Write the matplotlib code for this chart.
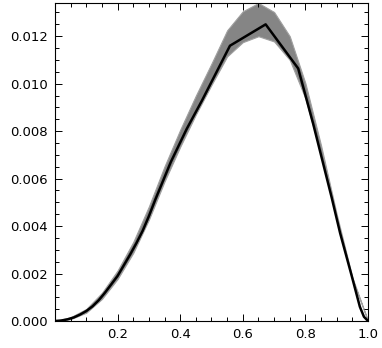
import matplotlib
matplotlib.use("Agg")
import matplotlib.pyplot as plt
from matplotlib.ticker import MultipleLocator, FormatStrFormatter

# model curve (black): smooth rise, then straight segments near the peak
model_x = [0.0, 0.02, 0.04, 0.06, 0.08, 0.10, 0.12, 0.14, 0.16, 0.18, 0.20,
           0.22, 0.24, 0.26, 0.28, 0.30, 0.32, 0.37, 0.421, 0.47, 0.559, 0.673,
           0.777, 0.825, 0.884, 0.911, 0.948, 0.962, 0.974, 0.987, 1.0]
model_y = [0.0, 0.00002, 0.00007, 0.00015, 0.00027, 0.00042, 0.00062, 0.00088,
           0.0012, 0.00155, 0.0019, 0.00235, 0.0028, 0.00328, 0.0038, 0.00442,
           0.0051, 0.0067, 0.0081, 0.0093, 0.0116, 0.0125, 0.01064, 0.0083,
           0.0052, 0.0037, 0.0019, 0.0012, 0.0006, 0.00018, 0.0]

# gray cloud of samples: centre and vertical half-spread
cloud_x = [0.0, 0.05, 0.1, 0.15, 0.2, 0.25, 0.3, 0.35, 0.4, 0.45, 0.5, 0.55,
           0.6, 0.65, 0.7, 0.75, 0.8, 0.85, 0.9, 0.95, 1.0]
cloud_mid = [0.0, 0.00012, 0.00043, 0.00106, 0.00195, 0.0031, 0.00455, 0.0062,
             0.0077, 0.0091, 0.0104, 0.0117, 0.0124, 0.0127, 0.0124, 0.0115,
             0.0097, 0.0072, 0.0044, 0.0018, 0.0]
cloud_half = [0.0, 0.00004, 0.00008, 0.00013, 0.00018, 0.00023, 0.00028,
              0.00032, 0.00036, 0.0004, 0.00045, 0.00055, 0.00065, 0.0007,
              0.00062, 0.0005, 0.00032, 0.0002, 0.0001, 0.00004, 0.0]

cloud_lo = [m - h for m, h in zip(cloud_mid, cloud_half)]
cloud_hi = [m + h for m, h in zip(cloud_mid, cloud_half)]

plt.rcParams['font.family'] = 'DejaVu Sans'
fig = plt.figure(figsize=(3.82, 3.48), dpi=100)
ax = fig.add_axes([55 / 382, 27 / 348, 313 / 382, 318 / 348])

ax.fill_between(cloud_x, cloud_lo, cloud_hi, color='#858585', linewidth=0.8,
                edgecolor='#a0a0a0')
ax.plot(model_x, model_y, color='black', linewidth=1.8)

ax.set_xlim(0, 1.0)
ax.set_ylim(0, 0.0134)
ax.set_xticks([0.2, 0.4, 0.6, 0.8, 1.0])
ax.xaxis.set_minor_locator(MultipleLocator(0.05))
ax.yaxis.set_major_locator(MultipleLocator(0.002))
ax.yaxis.set_minor_locator(MultipleLocator(0.0005))
ax.xaxis.set_major_formatter(FormatStrFormatter('%.1f'))
ax.yaxis.set_major_formatter(FormatStrFormatter('%.3f'))

ax.tick_params(which='both', direction='in', top=True, right=True,
               labelsize=9.5, width=0.7, pad=5)
ax.tick_params(which='major', length=5)
ax.tick_params(which='minor', length=3)
for s in ax.spines.values():
    s.set_linewidth(0.8)

fig.savefig('out.png', dpi=100)
